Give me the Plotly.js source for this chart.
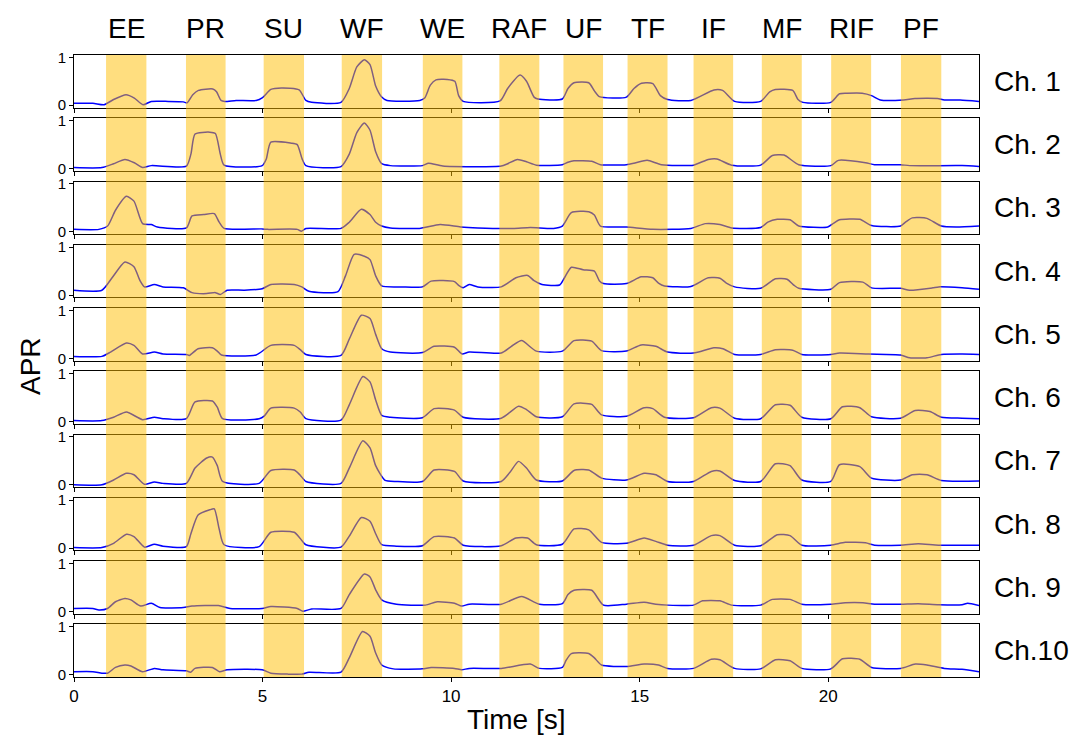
<!DOCTYPE html>
<html>
<head>
<meta charset="utf-8">
<script src="https://cdn.plot.ly/plotly-3.0.1.min.js"></script>
<style>html,body{margin:0;padding:0;background:#fff;}#chart{width:1076px;height:746px;}</style>
</head>
<body>
<div id="chart"></div>
<script>
// ---- data (time [s], APR) ----
const gestures = ['EE','PR','SU','WF','WE','RAF','UF','TF','IF','MF','RIF','PF'];
const bandStart = [0.85,2.97,5.03,7.10,9.25,11.28,12.98,14.68,16.43,18.24,20.08,21.93];
const bandEnd   = [1.92,4.02,6.10,8.17,10.30,12.34,14.03,15.74,17.48,19.30,21.14,23.00];
const channelNames = ['Ch. 1','Ch. 2','Ch. 3','Ch. 4','Ch. 5','Ch. 6','Ch. 7','Ch. 8','Ch. 9','Ch.10'];
const timeTicks = [0,5,10,15,20];
const yTicks = [0,1];

const ch1 = [[0,0.04],[0.5,0.04],[0.8,0.01],[1.05,0.12],[1.38,0.22],[1.6,0.15],[1.83,0.01],[2.05,0.08],[2.5,0.08],[2.9,0.07],[3.0,0.05],[3.15,0.22],[3.3,0.31],[3.68,0.34],[3.78,0.28],[3.9,0.1],[4.0,0.08],[4.3,0.1],[4.83,0.1],[5.0,0.16],[5.22,0.33],[5.5,0.36],[5.97,0.32],[6.15,0.1],[6.3,0.06],[7.08,0.06],[7.3,0.35],[7.5,0.8],[7.7,0.95],[7.85,0.85],[8.0,0.4],[8.16,0.17],[8.3,0.1],[9.17,0.1],[9.3,0.15],[9.45,0.42],[9.6,0.53],[9.9,0.54],[10.1,0.5],[10.2,0.2],[10.32,0.08],[11.3,0.09],[11.5,0.35],[11.83,0.63],[12.0,0.5],[12.2,0.17],[12.3,0.13],[12.95,0.13],[13.1,0.35],[13.26,0.47],[13.65,0.47],[13.8,0.3],[13.93,0.18],[14.65,0.17],[14.85,0.35],[15.05,0.46],[15.35,0.45],[15.55,0.2],[15.74,0.12],[16.36,0.1],[16.97,0.32],[17.2,0.31],[17.52,0.08],[18.21,0.08],[18.45,0.28],[18.6,0.33],[19.06,0.31],[19.2,0.12],[19.33,0.06],[20.07,0.06],[20.3,0.24],[20.5,0.25],[20.9,0.25],[21.15,0.2],[21.38,0.11],[22.0,0.11],[22.3,0.14],[22.9,0.14],[23.08,0.11],[23.5,0.11],[24,0.08]];
const ch2 = [[0,0.02],[0.74,0.02],[1.05,0.1],[1.35,0.19],[1.6,0.12],[1.82,0.02],[2.05,0.06],[2.98,0.05],[3.1,0.3],[3.21,0.72],[3.6,0.76],[3.75,0.73],[3.88,0.3],[3.98,0.07],[4.99,0.06],[5.1,0.2],[5.22,0.55],[5.76,0.53],[5.92,0.5],[6.05,0.2],[6.15,0.06],[7.08,0.04],[7.3,0.3],[7.5,0.75],[7.7,0.95],[7.85,0.8],[8.0,0.35],[8.16,0.1],[8.39,0.06],[9.24,0.06],[9.4,0.11],[9.78,0.05],[11.33,0.05],[11.5,0.1],[11.76,0.19],[12.0,0.14],[12.26,0.07],[12.95,0.08],[13.1,0.13],[13.26,0.16],[13.73,0.15],[13.96,0.08],[14.65,0.08],[14.9,0.12],[15.2,0.17],[15.58,0.08],[16.43,0.07],[16.82,0.19],[17.05,0.2],[17.44,0.07],[18.21,0.07],[18.52,0.27],[18.83,0.28],[19.22,0.08],[20.07,0.06],[20.27,0.17],[20.99,0.12],[21.23,0.08],[21.92,0.08],[22.16,0.06],[23.55,0.06],[24,0.04]];
const ch3 = [[0,0.05],[0.66,0.05],[0.89,0.12],[1.1,0.45],[1.39,0.74],[1.59,0.64],[1.82,0.17],[2.05,0.15],[2.21,0.1],[2.98,0.08],[3.13,0.33],[3.44,0.36],[3.72,0.38],[3.85,0.2],[3.98,0.07],[4.99,0.06],[5.14,0.05],[5.92,0.05],[6.03,0.01],[6.15,0.07],[7.08,0.07],[7.3,0.2],[7.62,0.47],[7.85,0.36],[8.0,0.2],[8.16,0.12],[8.39,0.08],[9.16,0.07],[9.71,0.15],[10.25,0.1],[10.71,0.08],[11.64,0.07],[12.1,0.09],[12.72,0.07],[12.95,0.12],[13.19,0.4],[13.65,0.42],[13.8,0.35],[13.96,0.12],[14.65,0.1],[15.35,0.05],[16.36,0.07],[16.74,0.17],[17.13,0.15],[17.44,0.08],[18.21,0.09],[18.4,0.2],[18.65,0.26],[18.99,0.25],[19.22,0.12],[19.99,0.1],[20.15,0.18],[20.3,0.25],[20.84,0.26],[21.15,0.13],[21.92,0.12],[22.05,0.2],[22.23,0.29],[22.62,0.28],[23.0,0.12],[23.39,0.1],[24,0.12]];
const ch4 = [[0,0.1],[0.74,0.1],[1.0,0.35],[1.35,0.69],[1.59,0.59],[1.75,0.3],[1.87,0.17],[2.13,0.22],[2.36,0.17],[2.9,0.15],[3.13,0.05],[3.52,0.03],[3.75,0.05],[3.88,0.01],[4.06,0.1],[4.52,0.1],[4.99,0.13],[5.22,0.22],[5.84,0.22],[6.04,0.17],[6.23,0.08],[7.0,0.07],[7.2,0.4],[7.43,0.85],[7.7,0.81],[7.85,0.74],[8.0,0.4],[8.16,0.19],[8.7,0.17],[9.24,0.17],[9.47,0.29],[10.09,0.28],[10.2,0.2],[10.32,0.15],[10.48,0.22],[10.71,0.17],[11.33,0.17],[11.72,0.36],[12.03,0.41],[12.2,0.3],[12.41,0.22],[12.88,0.21],[13.0,0.35],[13.19,0.58],[13.5,0.53],[13.8,0.5],[13.93,0.3],[14.04,0.24],[14.65,0.24],[15.04,0.38],[15.35,0.36],[15.5,0.25],[15.66,0.19],[16.36,0.18],[16.82,0.36],[17.13,0.35],[17.3,0.25],[17.52,0.17],[18.21,0.14],[18.6,0.34],[18.91,0.33],[19.1,0.2],[19.22,0.14],[20.07,0.12],[20.3,0.26],[20.92,0.27],[21.15,0.15],[21.92,0.14],[22.16,0.1],[22.77,0.15],[22.93,0.17],[23.55,0.15],[24,0.12]];
const ch5 = [[0,0.04],[0.74,0.04],[0.97,0.13],[1.39,0.32],[1.59,0.27],[1.82,0.09],[2.13,0.13],[2.36,0.09],[2.98,0.08],[3.06,0.06],[3.29,0.2],[3.67,0.22],[3.8,0.15],[3.91,0.07],[4.83,0.07],[5.22,0.27],[5.84,0.27],[6.0,0.18],[6.15,0.08],[7.08,0.06],[7.3,0.4],[7.62,0.9],[7.85,0.83],[8.0,0.5],[8.16,0.2],[8.39,0.13],[9.24,0.12],[9.55,0.25],[10.09,0.23],[10.29,0.09],[10.48,0.13],[11.33,0.11],[11.6,0.25],[11.87,0.37],[12.26,0.15],[12.95,0.15],[13.26,0.37],[13.73,0.36],[13.99,0.16],[14.65,0.15],[15.04,0.28],[15.43,0.25],[15.74,0.13],[16.43,0.11],[16.97,0.22],[17.21,0.2],[17.52,0.08],[18.21,0.08],[18.6,0.18],[19.06,0.17],[19.3,0.08],[20.07,0.08],[20.3,0.11],[21.07,0.09],[21.92,0.07],[22.16,0.01],[22.62,0.01],[23.0,0.08],[23.55,0.09],[24,0.08]];
const ch6 = [[0,0.02],[0.74,0.02],[1.05,0.09],[1.39,0.2],[1.82,0.04],[2.13,0.09],[2.36,0.06],[2.98,0.06],[3.21,0.41],[3.67,0.43],[3.8,0.3],[3.94,0.06],[4.91,0.06],[5.05,0.12],[5.22,0.28],[5.84,0.28],[6.0,0.2],[6.15,0.06],[7.08,0.03],[7.3,0.35],[7.66,0.94],[7.85,0.83],[8.0,0.45],[8.16,0.13],[8.39,0.09],[9.24,0.08],[9.55,0.27],[10.09,0.24],[10.32,0.09],[11.33,0.07],[11.79,0.32],[12.0,0.25],[12.26,0.1],[12.95,0.1],[13.26,0.37],[13.73,0.36],[13.99,0.14],[14.65,0.11],[15.12,0.29],[15.35,0.27],[15.66,0.09],[16.43,0.08],[16.9,0.29],[17.13,0.28],[17.52,0.07],[18.21,0.06],[18.6,0.35],[18.99,0.34],[19.3,0.09],[20.07,0.06],[20.38,0.31],[20.84,0.29],[21.15,0.1],[21.92,0.07],[22.31,0.23],[22.7,0.21],[23.0,0.09],[23.55,0.07],[24,0.06]];
const ch7 = [[0,0.0],[0.74,0.0],[1.05,0.1],[1.39,0.24],[1.59,0.21],[1.87,0.01],[2.13,0.06],[2.36,0.03],[2.98,0.03],[3.21,0.35],[3.52,0.56],[3.67,0.58],[3.8,0.4],[3.94,0.07],[4.91,0.03],[5.22,0.3],[5.84,0.31],[6.0,0.2],[6.15,0.07],[7.08,0.03],[7.3,0.35],[7.66,0.92],[7.85,0.77],[8.0,0.4],[8.24,0.1],[8.55,0.07],[9.24,0.07],[9.55,0.31],[10.09,0.28],[10.32,0.08],[11.33,0.07],[11.55,0.25],[11.79,0.49],[12.0,0.35],[12.26,0.1],[12.95,0.08],[13.26,0.3],[13.65,0.31],[13.99,0.14],[14.65,0.1],[15.12,0.24],[15.43,0.21],[15.74,0.07],[16.43,0.07],[16.9,0.28],[17.13,0.29],[17.52,0.09],[18.21,0.07],[18.6,0.44],[18.99,0.4],[19.3,0.1],[20.07,0.07],[20.3,0.42],[20.84,0.38],[21.15,0.14],[21.92,0.1],[22.23,0.21],[22.62,0.21],[23.0,0.09],[24,0.08]];
const ch8 = [[0,0.01],[0.74,0.01],[1.05,0.1],[1.39,0.29],[1.59,0.24],[1.87,0.02],[2.13,0.08],[2.36,0.04],[2.98,0.03],[3.1,0.3],[3.29,0.69],[3.6,0.8],[3.72,0.82],[3.85,0.4],[3.98,0.07],[4.91,0.03],[5.22,0.33],[5.84,0.33],[6.0,0.2],[6.15,0.07],[7.08,0.02],[7.3,0.25],[7.62,0.64],[7.85,0.56],[8.0,0.3],[8.16,0.07],[8.55,0.04],[9.24,0.05],[9.55,0.24],[10.09,0.21],[10.32,0.06],[11.33,0.05],[11.72,0.21],[12.03,0.21],[12.26,0.07],[12.95,0.08],[13.26,0.4],[13.65,0.38],[13.99,0.12],[14.65,0.1],[15.12,0.21],[15.43,0.14],[15.74,0.06],[16.43,0.06],[16.9,0.26],[17.13,0.26],[17.52,0.06],[18.21,0.05],[18.65,0.28],[18.99,0.26],[19.3,0.06],[20.07,0.06],[20.45,0.12],[20.99,0.11],[21.23,0.06],[21.92,0.06],[22.39,0.09],[22.93,0.06],[24,0.06]];
const ch9 = [[0,0.06],[0.5,0.06],[0.66,0.03],[0.89,0.06],[1.1,0.2],[1.35,0.27],[1.51,0.24],[1.77,0.11],[2.05,0.17],[2.28,0.08],[2.9,0.08],[3.13,0.11],[3.83,0.12],[4.14,0.06],[4.99,0.06],[5.22,0.1],[5.92,0.06],[6.07,0.0],[6.3,0.05],[7.08,0.06],[7.3,0.35],[7.7,0.78],[7.85,0.72],[8.0,0.45],[8.16,0.24],[8.55,0.15],[9.32,0.13],[9.63,0.2],[10.09,0.17],[10.28,0.11],[10.48,0.15],[11.33,0.15],[11.87,0.31],[12.34,0.15],[12.95,0.16],[13.1,0.35],[13.26,0.44],[13.73,0.44],[14.04,0.13],[14.65,0.15],[15.12,0.19],[15.43,0.15],[15.74,0.13],[16.43,0.13],[16.67,0.22],[17.13,0.22],[17.44,0.13],[18.21,0.13],[18.52,0.25],[18.99,0.25],[19.3,0.15],[20.07,0.15],[20.45,0.18],[20.92,0.18],[21.23,0.15],[21.92,0.15],[22.39,0.16],[22.93,0.14],[23.55,0.14],[23.7,0.17],[24,0.12]];
const ch10 = [[0,0.06],[0.5,0.06],[0.74,0.03],[0.89,0.03],[1.1,0.15],[1.35,0.2],[1.51,0.18],[1.82,0.06],[2.13,0.13],[2.36,0.1],[2.98,0.08],[3.09,0.05],[3.21,0.13],[3.67,0.15],[3.86,0.06],[4.06,0.1],[4.99,0.1],[5.22,0.03],[5.68,0.01],[6.04,0.01],[6.23,0.05],[7.08,0.05],[7.3,0.35],[7.65,0.9],[7.85,0.8],[8.0,0.45],[8.16,0.2],[8.47,0.12],[9.24,0.12],[9.47,0.15],[10.09,0.13],[10.28,0.1],[10.48,0.13],[11.33,0.13],[12.1,0.22],[12.34,0.13],[12.95,0.15],[13.05,0.3],[13.19,0.44],[13.65,0.44],[13.8,0.35],[13.99,0.2],[14.65,0.17],[15.12,0.22],[15.5,0.2],[15.74,0.13],[16.43,0.13],[16.9,0.32],[17.13,0.31],[17.52,0.13],[18.21,0.12],[18.6,0.31],[18.99,0.29],[19.3,0.13],[20.07,0.12],[20.38,0.33],[20.84,0.32],[21.15,0.15],[21.92,0.13],[22.31,0.22],[22.62,0.2],[23.08,0.13],[23.55,0.11],[24,0.06]];

const channels = [ch1,ch2,ch3,ch4,ch5,ch6,ch7,ch8,ch9,ch10];

// ---- build ----
const FONT = 'Liberation Sans, Arial, Helvetica, sans-serif';
const BIG = 28, XTICK = 17, YTICK = 15;
const N = channels.length;
const ph = 0.0846;
const stride = (1 - ph) / (N - 1);

const traces = [];
const layout = {
  width: 1076, height: 746,
  margin: {l: 74, r: 97, t: 55, b: 69, pad: 0},
  paper_bgcolor: '#ffffff', plot_bgcolor: '#ffffff',
  showlegend: false,
  font: {family: FONT, color: '#000000'},
  shapes: [], annotations: []
};

channels.forEach((c, i) => {
  const xa = i === 0 ? 'x' : 'x' + (i + 1);
  const ya = i === 0 ? 'y' : 'y' + (i + 1);
  traces.push({
    x: c.map(p => p[0]), y: c.map(p => p[1]),
    xaxis: xa, yaxis: ya, type: 'scatter', mode: 'lines',
    line: {color: '#0000ff', width: 1.5, shape: 'spline', smoothing: 0.6},
    hoverinfo: 'skip'
  });
  const top = 1 - i * stride;
  const bot = Math.max(0, top - ph);
  layout['xaxis' + (i === 0 ? '' : i + 1)] = {
    domain: [0, 1], anchor: ya, range: [0, 24],
    tickvals: timeTicks, ticks: 'outside', ticklen: 4, tickwidth: 1, tickcolor: '#000',
    showticklabels: i === N - 1,
    tickfont: {family: FONT, size: XTICK, color: '#000'},
    showline: true, mirror: true, linecolor: '#000', linewidth: 1,
    showgrid: false, zeroline: false, fixedrange: true
  };
  layout['yaxis' + (i === 0 ? '' : i + 1)] = {
    domain: [bot, top], anchor: xa, range: [-0.05, 1.05],
    tickvals: yTicks, ticks: 'outside', ticklen: 4, tickwidth: 1, tickcolor: '#000',
    tickfont: {family: FONT, size: YTICK, color: '#000'},
    showline: true, mirror: true, linecolor: '#000', linewidth: 1,
    showgrid: false, zeroline: false, fixedrange: true
  };
  layout.annotations.push({
    text: channelNames[i], xref: 'paper', yref: 'paper',
    x: 1.0144, y: (top + bot) / 2, xanchor: 'left', yanchor: 'middle',
    showarrow: false, font: {family: FONT, size: BIG, color: '#000'}
  });
});

gestures.forEach((g, k) => {
  layout.shapes.push({
    type: 'rect', xref: 'x', yref: 'paper',
    x0: bandStart[k], x1: bandEnd[k], y0: 0, y1: 1,
    fillcolor: 'rgba(255,190,0,0.5)', line: {width: 0}, layer: 'above'
  });
  layout.annotations.push({
    text: g, xref: 'x', yref: 'paper',
    x: (bandStart[k] + bandEnd[k]) / 2, y: 1.0434,
    xanchor: 'center', yanchor: 'middle', showarrow: false,
    font: {family: FONT, size: BIG, color: '#000'}
  });
});

layout.annotations.push({
  text: 'APR', xref: 'paper', yref: 'paper', x: -0.0486, y: 0.5,
  xanchor: 'center', yanchor: 'middle', textangle: -90, showarrow: false,
  font: {family: FONT, size: BIG, color: '#000'}
});
layout.annotations.push({
  text: 'Time [s]', xref: 'paper', yref: 'paper', x: 0.4895, y: -0.069,
  xanchor: 'center', yanchor: 'middle', showarrow: false,
  font: {family: FONT, size: BIG, color: '#000'}
});

Plotly.newPlot('chart', traces, layout, {staticPlot: true, displayModeBar: false});
</script>
</body>
</html>
